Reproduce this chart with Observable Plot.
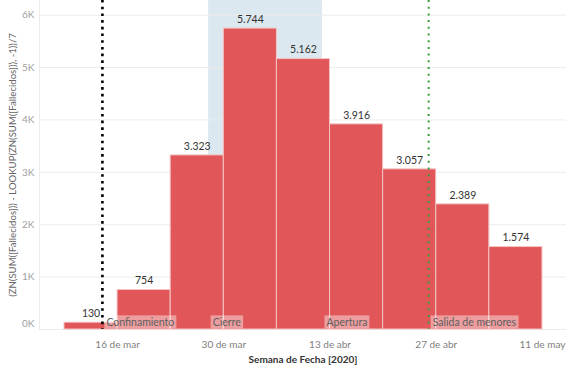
<!DOCTYPE html>
<html>
<head>
<meta charset="utf-8">
<script src="https://cdn.jsdelivr.net/npm/d3@7"></script>
<script src="https://cdn.jsdelivr.net/npm/@observablehq/plot@0.6"></script>
<style>
  html, body { margin: 0; padding: 0; background: #fff; }
</style>
</head>
<body>
<div id="chart"></div>
<script>
// ---- data ----
const weekStarts = ["2020-03-09","2020-03-16","2020-03-23","2020-03-30","2020-04-06","2020-04-13","2020-04-20","2020-04-27","2020-05-04"];
const deaths = [130, 754, 3323, 5744, 5162, 3916, 3057, 2389, 1574];

const tickDates = ["2020-03-16","2020-03-30","2020-04-13","2020-04-27","2020-05-11"];
const tickLabels = ["16 de mar","30 de mar","13 de abr","27 de abr","11 de may"];

const yTicks = [0, 1000, 2000, 3000, 4000, 5000, 6000];
const yTickLabels = ["0K","1K","2K","3K","4K","5K","6K"];

const bandDates = ["2020-03-28","2020-04-12"];
const lineDates = ["2020-03-14","2020-04-26"];
const lineColors = ["#000000","#3a9e3a"];
const noteDates = ["2020-03-14","2020-03-28","2020-04-12","2020-04-26"];
const noteLabels = ["Confinamiento","Cierre","Apertura","Salida de menores"];

const xTitle = "Semana de Fecha [2020]";
const yTitle = "(ZN(SUM([Fallecidos])) - LOOKUP(ZN(SUM([Fallecidos])), -1))/7";

// ---- build ----
const D = s => new Date(s + "T00:00:00Z");
const bars = weekStarts.map((w, i) => ({start: D(w), end: d3.utcDay.offset(D(w), 7), value: deaths[i]}));
const esFmt = d3.formatLocale({decimal: ",", thousands: ".", grouping: [3], currency: ["", "€"]}).format(",d");
const ticks = tickDates.map(D);
const tickLabelOf = d => tickLabels[ticks.findIndex(t => +t === +d)];
const yLabelOf = v => yTickLabels[yTicks.indexOf(v)];
const notes = noteDates.map((d, i) => ({date: D(d), label: noteLabels[i]}));
const lines = lineDates.map((d, i) => ({date: D(d), color: lineColors[i]}));

const chart = Plot.plot({
  width: 567,
  height: 370,
  marginLeft: 39,
  marginRight: 1,
  marginTop: 0,
  marginBottom: 41,
  style: {fontFamily: "Lato, 'Noto Sans', sans-serif", fontSize: "10px", background: "#fff"},
  x: {type: "utc", domain: [new Date("2020-03-05T17:00:00Z"), new Date("2020-05-14T04:00:00Z")]},
  y: {domain: [0, 6280]},
  marks: [
    Plot.rect([bandDates.map(D)], {x1: d => d[0], x2: d => d[1], fill: "#dce8ef"}),
    Plot.gridY(yTicks, {stroke: "#ececec", strokeOpacity: 1}),
    Plot.frame({anchor: "left", stroke: "#ececec"}),
    Plot.rectY(bars, {x1: "start", x2: "end", y: "value", fill: "#e15759", stroke: "#f4c4c4", strokeWidth: 1}),
    Plot.text(bars, {x: d => new Date((+d.start + +d.end) / 2), y: "value", text: d => esFmt(d.value), dy: -9, fill: "#333", fontSize: 10.5}),
    Plot.ruleX(lines.slice(0, 1), {x: "date", stroke: "color", strokeWidth: 2.6, strokeDasharray: "2.6,4.1"}),
    Plot.ruleX(lines.slice(1), {x: "date", stroke: "color", strokeWidth: 2, strokeDasharray: "2,4.7"}),
    Plot.text(notes, {x: "date", y: 0, text: "label", textAnchor: "start", dx: 4, dy: -7, fill: "#5e5e5e", fontSize: 10.5}),
    Plot.axisX(ticks, {tickSize: 0, tickPadding: 11, tickFormat: tickLabelOf, label: null, fill: "#808080", fontSize: 10}),
    Plot.axisY(yTicks.slice(1), {tickSize: 0, tickPadding: 5, tickFormat: yLabelOf, label: null, fill: "#a0a0a0", fontSize: 10}),
    Plot.axisY([0], {tickSize: 0, tickPadding: 5, tickFormat: yLabelOf, label: null, fill: "#a0a0a0", fontSize: 10, dy: -6}),
    Plot.text([xTitle], {frameAnchor: "bottom", lineAnchor: "middle", textAnchor: "middle", dy: 30, text: d => d, fill: "#333", fontWeight: "bold", fontSize: 10}),
    Plot.text([yTitle], {frameAnchor: "left", lineAnchor: "middle", textAnchor: "middle", dx: -27, rotate: -90, text: d => d, fill: "#666", fontSize: 9.6})
  ]
});

document.getElementById("chart").appendChild(chart);

// background boxes behind the annotation labels
d3.select(chart).selectAll("text").filter(function () {
  return noteLabels.includes(this.textContent);
}).each(function () {
  const bb = this.getBBox();
  const r = document.createElementNS("http://www.w3.org/2000/svg", "rect");
  r.setAttribute("x", bb.x - 2);
  r.setAttribute("y", bb.y - 0.5);
  r.setAttribute("width", bb.width + 4);
  r.setAttribute("height", bb.height + 1);
  r.setAttribute("fill", "#ffffff");
  r.setAttribute("fill-opacity", 0.42);
  const t = this.getAttribute("transform");
  if (t) r.setAttribute("transform", t);
  this.parentNode.insertBefore(r, this);
});
</script>
</body>
</html>
